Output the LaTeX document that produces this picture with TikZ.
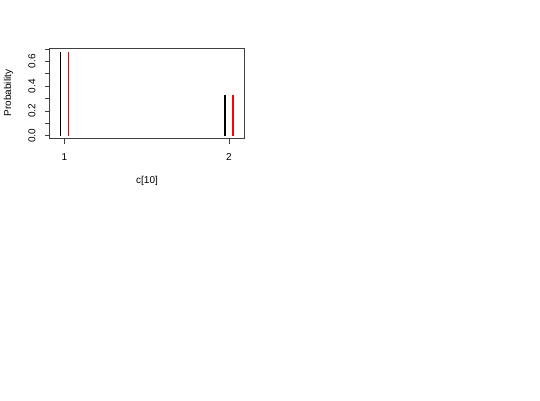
\documentclass[tikz,border=0pt]{standalone}
\usepackage{fontspec}
\setmainfont{Liberation Sans}
\begin{document}
\begin{tikzpicture}[x=1pt,y=-1pt,
  axisline/.style={draw=black!75,line width=0.8pt},
  lbl/.style={font=\fontsize{10}{12}\selectfont,inner sep=0pt},
  barblack/.style={draw=black,line width=1.4pt},
  barred/.style={draw=red,line width=1.4pt}]
\useasboundingbox (0,0) rectangle (540,400);
% plot frame
\draw[axisline] (49,48.7) rectangle (244.5,138.5);
% y ticks
\foreach \k in {0,...,7}{
  \draw[axisline] (45,135.7-\k*12.4) -- (49,135.7-\k*12.4);
}
\node[lbl,rotate=90] (y0) at (32,135.7) {0.0};
\node[lbl,rotate=90] (y2) at (32,110.9) {0.2};
\node[lbl,rotate=90] (y4) at (32,86.1) {0.4};
\node[lbl,rotate=90] (y6) at (32,61.3) {0.6};
\node[lbl,rotate=90] (ylab) at (8.5,93) {Probability};
% x ticks
\draw[axisline] (64.3,138.5) -- (64.3,144);
\draw[axisline] (229,138.5) -- (229,144);
\node[lbl] (x1) at (64.3,157.5) {1};
\node[lbl] (x2) at (229,157.5) {2};
\node[lbl] (xlab) at (147,181) {c[10]};
% bars
\draw[barblack] (60.3,136) -- (60.3,51.7);
\draw[barred] (68.7,136) -- (68.7,51.7);
\draw[barblack] (225,136) -- (225,94.5);
\draw[barred] (233,136) -- (233,94.5);
\end{tikzpicture}
\end{document}
